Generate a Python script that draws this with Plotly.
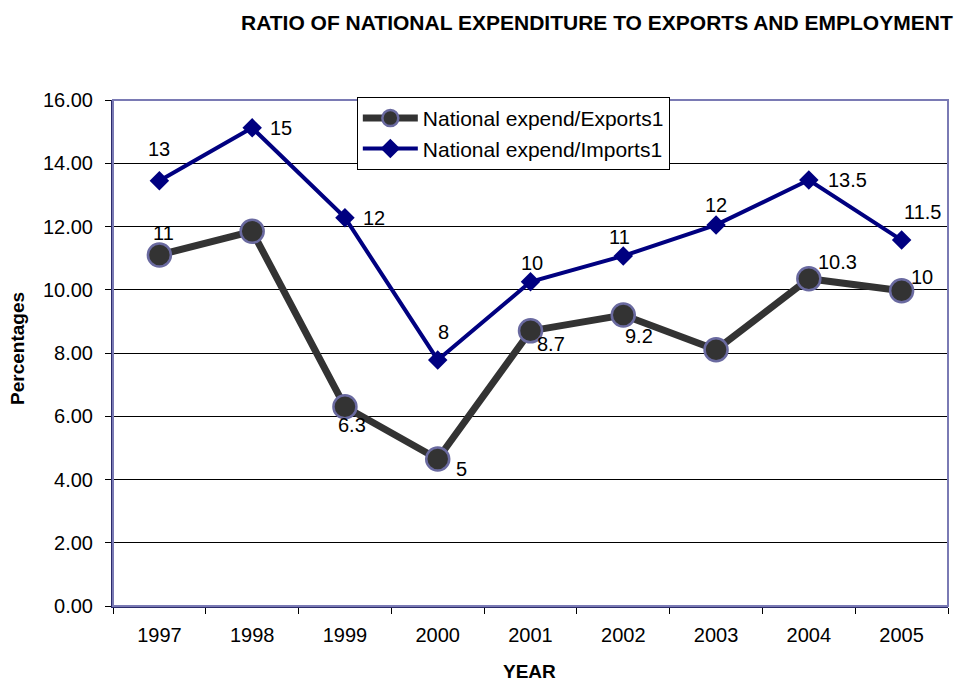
import plotly.graph_objects as go

years = ["1997", "1998", "1999", "2000", "2001", "2002", "2003", "2004", "2005"]
exports_ratio = [11.1, 11.85, 6.3, 4.65, 8.7, 9.2, 8.1, 10.35, 9.97]
imports_ratio = [13.45, 15.12, 12.28, 7.78, 10.25, 11.07, 12.05, 13.47, 11.57]
exports_labels = ["11", "", "6.3", "5", "8.7", "9.2", "", "10.3", "10"]
imports_labels = ["13", "15", "12", "8", "10", "11", "12", "13.5", "11.5"]

# label placement (pixel offsets from the point)
exports_shift = [(4, 22), (0, 0), (7, -18), (24, -10), (20, -13), (16, -21), (0, 0), (29, 17), (20, 14)]
imports_shift = [(0, 32), (29, 0), (29, 0), (6, 28), (1, 19), (-4, 19), (0, 20), (39, 0), (21, 28)]

FONT = "Liberation Sans, Arial, sans-serif"

fig = go.Figure()
fig.add_trace(go.Scatter(
    x=years, y=exports_ratio, name="National expend/Exports1",
    mode="lines+markers",
    line=dict(color="#333333", width=7),
    marker=dict(symbol="circle", size=23, color="#333333",
                line=dict(color="#6a6aa0", width=2.5)),
))
fig.add_trace(go.Scatter(
    x=years, y=imports_ratio, name="National expend/Imports1",
    mode="lines+markers",
    line=dict(color="#000080", width=4),
    marker=dict(symbol="diamond", size=15, color="#000080"),
))

annotations = []
for i, (v, t, (dx, dy)) in enumerate(zip(exports_ratio, exports_labels, exports_shift)):
    if t:
        annotations.append(dict(x=i, y=v, xref="x", yref="y", text=t, showarrow=False,
                                xshift=dx, yshift=dy,
                                font=dict(size=20, color="#000000", family=FONT)))
for i, (v, t, (dx, dy)) in enumerate(zip(imports_ratio, imports_labels, imports_shift)):
    if t:
        annotations.append(dict(x=i, y=v, xref="x", yref="y", text=t, showarrow=False,
                                xshift=dx, yshift=dy,
                                font=dict(size=20, color="#000000", family=FONT)))

annotations += [
    dict(text="<b>RATIO OF NATIONAL EXPENDITURE TO EXPORTS AND EMPLOYMENT</b>",
         xref="paper", yref="paper", x=0.5796, y=1.154, showarrow=False,
         xanchor="center", yanchor="middle", font=dict(size=21, family=FONT, color="#000000")),
    dict(text="<b>Percentages</b>", xref="paper", yref="paper", x=-0.1138, y=0.51,
         showarrow=False, textangle=-90, xanchor="center", yanchor="middle",
         font=dict(size=19, family=FONT, color="#000000")),
    dict(text="<b>YEAR</b>", xref="paper", yref="paper", x=0.4994, y=-0.130,
         showarrow=False, xanchor="center", yanchor="middle",
         font=dict(size=19, family=FONT, color="#000000")),
]

fig.update_layout(
    width=963, height=681,
    margin=dict(l=113, r=15, t=100, b=75),
    paper_bgcolor="white", plot_bgcolor="white",
    font=dict(family=FONT, size=20, color="#000000"),
    showlegend=True,
    legend=dict(x=0.292, y=1.006, xanchor="left", yanchor="top",
                bgcolor="white", bordercolor="#000000", borderwidth=1,
                font=dict(size=21, family=FONT), itemwidth=55,
                tracegroupgap=0),
    annotations=annotations,
    shapes=[dict(type="rect", xref="paper", yref="paper", x0=0, y0=0, x1=1, y1=1,
                 line=dict(color="#7a7ab4", width=2), layer="above")],
)
fig.update_xaxes(
    type="category", range=[-0.5, 8.5], tickson="boundaries",
    ticks="outside", ticklen=6, tickcolor="#000000",
    showline=True, linecolor="#2b2b6b", linewidth=2, mirror=False,
    showgrid=False, ticklabelstandoff=10, tickfont=dict(size=20),
)
fig.update_yaxes(
    range=[0, 16], dtick=2, tickformat=".2f",
    ticks="outside", ticklen=6, tickcolor="#000000",
    showline=True, linecolor="#2b2b6b", linewidth=2,
    showgrid=True, gridcolor="#000000", gridwidth=1,
    zeroline=False, ticklabelstandoff=8, tickfont=dict(size=20),
)

fig.write_html("out.html", config={"displayModeBar": False},
               post_script="document.body.style.margin='0';document.body.style.padding='0';")
